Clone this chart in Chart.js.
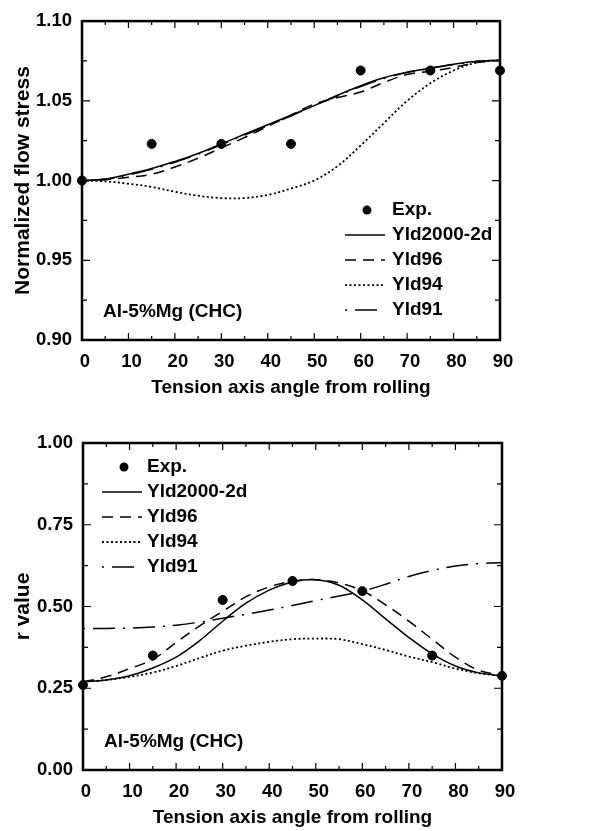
<!DOCTYPE html>
<html>
<head>
<meta charset="utf-8">
<script src="https://cdn.jsdelivr.net/npm/chart.js@4.4.0/dist/chart.umd.min.js"></script>
<style>
  html, body { margin: 0; padding: 0; background: #fff; }
  #wrap { position: relative; width: 613px; height: 831px; }
  canvas { position: absolute; left: 0; }
</style>
</head>
<body>
<div id="wrap">
  <canvas id="stressChart" width="613" height="405" style="top:0"></canvas>
  <canvas id="rChart" width="613" height="421" style="top:410px"></canvas>
</div>
<script>
// Al-5%Mg (CHC): flow stress and r value vs. angle from rolling direction

const angles = [0, 5, 10, 15, 20, 25, 30, 35, 40, 45, 50, 55, 60, 65, 70, 75, 80, 85, 90];
const expAngles = [0, 15, 30, 45, 60, 75, 90];
const seriesNames = ["Exp.", "Yld2000-2d", "Yld96", "Yld94", "Yld91"];

// normalized flow stress (top)
const stressExp = [1.000, 1.023, 1.023, 1.023, 1.069, 1.069, 1.069];
const stressYld2000 = [1.000, 1.001, 1.004, 1.0075, 1.012, 1.017, 1.023, 1.029, 1.035, 1.041, 1.047, 1.0535, 1.0595, 1.0645, 1.068, 1.0705, 1.073, 1.0748, 1.0755];
const stressYld96 = [1.000, 1.0005, 1.002, 1.004, 1.0085, 1.014, 1.0205, 1.027, 1.034, 1.041, 1.048, 1.052, 1.0555, 1.0615, 1.0665, 1.0685, 1.071, 1.074, 1.0755];
const stressYld94 = [1.000, 0.9995, 0.998, 0.996, 0.993, 0.9905, 0.989, 0.989, 0.991, 0.995, 1.000, 1.009, 1.022, 1.036, 1.050, 1.061, 1.069, 1.074, 1.0755];
const stressYld91 = [1.000, 1.0008, 1.0035, 1.007, 1.0115, 1.0165, 1.0225, 1.0285, 1.0345, 1.0405, 1.047, 1.053, 1.059, 1.064, 1.0678, 1.0703, 1.0728, 1.0747, 1.0755];

// r value (bottom)
const rExp = [0.26, 0.35, 0.52, 0.578, 0.547, 0.35, 0.288];
const rYld2000 = [0.27, 0.275, 0.288, 0.312, 0.345, 0.395, 0.455, 0.51, 0.55, 0.575, 0.582, 0.565, 0.52, 0.462, 0.405, 0.355, 0.318, 0.297, 0.288];
const rYld96 = [0.27, 0.285, 0.31, 0.338, 0.39, 0.44, 0.485, 0.53, 0.56, 0.577, 0.582, 0.572, 0.548, 0.505, 0.455, 0.40, 0.345, 0.305, 0.29];
const rYld94 = [0.27, 0.275, 0.285, 0.298, 0.318, 0.342, 0.365, 0.38, 0.392, 0.40, 0.402, 0.400, 0.385, 0.367, 0.347, 0.330, 0.310, 0.296, 0.288];
const rYld91 = [0.433, 0.433, 0.434, 0.437, 0.443, 0.452, 0.464, 0.476, 0.489, 0.503, 0.518, 0.532, 0.547, 0.568, 0.592, 0.610, 0.624, 0.631, 0.634];

const FONT = "'Liberation Sans', Arial, sans-serif";
Chart.defaults.font.family = FONT;
Chart.defaults.font.weight = "bold";
Chart.defaults.color = "#000";

function pts(xs, ys) {
    return xs.map((x, i) => ({ x: x, y: ys[i] }));
}

const lineStyles = [
    null,
    { dash: [], width: 1.5 },
    { dash: [11, 7], width: 1.5 },
    { dash: [2, 2.5], width: 1.8 },
    { dash: [2, 8, 22, 8], width: 1.5 }
];

function makeDatasets(exp, curves) {
    const sets = [{
        label: seriesNames[0],
        data: pts(expAngles, exp),
        showLine: false,
        pointRadius: 4.5,
        pointBackgroundColor: "#000",
        pointBorderColor: "#000",
        clip: false
    }];
    curves.forEach((c, i) => {
        const st = lineStyles[i + 1];
        sets.push({
            label: seriesNames[i + 1],
            data: pts(angles, c),
            showLine: true,
            borderColor: "#000",
            borderWidth: st.width,
            borderDash: st.dash,
            pointRadius: 0,
            tension: 0.35,
            fill: false
        });
    });
    return sets;
}

// inward ticks on all four sides + frame
const frameTicks = {
    id: "frameTicks",
    beforeDatasetsDraw(chart) {
        const { ctx, chartArea: a, scales: { x, y } } = chart;
        ctx.save();
        ctx.strokeStyle = "#000";
        ctx.lineWidth = 1.2;
        ctx.beginPath();
        x.ticks.forEach(t => {
            const px = x.getPixelForValue(t.value);
            const len = t.label === "" ? 4 : 7;
            ctx.moveTo(px, a.bottom); ctx.lineTo(px, a.bottom - len);
            ctx.moveTo(px, a.top); ctx.lineTo(px, a.top + len);
        });
        y.ticks.forEach(t => {
            const py = y.getPixelForValue(t.value);
            const len = t.label === "" ? 5 : 8;
            ctx.moveTo(a.left, py); ctx.lineTo(a.left + len, py);
            ctx.moveTo(a.right, py); ctx.lineTo(a.right - len, py);
        });
        ctx.stroke();
        ctx.lineWidth = 2.5;
        ctx.strokeRect(a.left, a.top, a.right - a.left, a.bottom - a.top);
        ctx.restore();
    }
};

// legend and material label drawn inside the plot
const innerLegend = {
    id: "innerLegend",
    afterDraw(chart, args, o) {
        const { ctx, chartArea: a } = chart;
        ctx.save();
        ctx.font = "bold 19px " + FONT;
        ctx.fillStyle = "#000";
        ctx.strokeStyle = "#000";
        ctx.textBaseline = "middle";
        chart.data.datasets.forEach((ds, i) => {
            const yy = a.top + o.top + i * o.step;
            if (ds.showLine === false) {
                ctx.beginPath();
                ctx.arc(a.left + o.dotX, yy, 4.5, 0, Math.PI * 2);
                ctx.fill();
            } else {
                ctx.setLineDash(ds.borderDash);
                ctx.lineWidth = ds.borderWidth;
                ctx.beginPath();
                ctx.moveTo(a.left + o.symL, yy);
                ctx.lineTo(a.left + o.symR, yy);
                ctx.stroke();
                ctx.setLineDash([]);
            }
            ctx.fillText(ds.label, a.left + o.textX, yy);
        });
        ctx.fillText("Al-5%Mg (CHC)", a.left + 21, a.bottom - 28);
        ctx.restore();
    }
};

function makeChart(id, datasets, yOpts, yTitle, pad, yWidth, xHeight, legendOpts) {
    return new Chart(document.getElementById(id), {
        type: "scatter",
        data: { datasets: datasets },
        options: {
            responsive: false,
            animation: false,
            layout: { padding: pad },
            plugins: {
                legend: { display: false },
                tooltip: { enabled: false },
                innerLegend: legendOpts
            },
            scales: {
                x: {
                    type: "linear",
                    min: 0, max: 90,
                    grid: { display: false, drawTicks: false },
                    border: { display: false },
                    ticks: {
                        stepSize: 5,
                        autoSkip: false,
                        maxRotation: 0,
                        padding: 11,
                        labelOffset: 3,
                        font: { size: 18.5, weight: "bold" },
                        callback: v => (v % 10 === 0 ? String(v) : "")
                    },
                    title: {
                        display: true,
                        text: "Tension axis angle from rolling",
                        font: { size: 19, weight: "bold" },
                        padding: { top: 0, bottom: xHeight === 65 ? 5.6 : 1.6 }
                    },
                    afterFit: s => { s.height = xHeight; }
                },
                y: {
                    type: "linear",
                    min: yOpts.min, max: yOpts.max,
                    grid: { display: false, drawTicks: false },
                    border: { display: false },
                    ticks: {
                        stepSize: yOpts.step,
                        autoSkip: false,
                        padding: 10,
                        font: { size: 18.5, weight: "bold" },
                        callback: v => (Math.round(v / yOpts.step) % 2 === 0 ? v.toFixed(2) : "")
                    },
                    title: {
                        display: true,
                        text: yTitle,
                        font: { size: 21, weight: "bold" },
                        padding: { top: 10.5, bottom: 0 }
                    },
                    afterFit: s => { s.width = yWidth; }
                }
            }
        },
        plugins: [frameTicks, innerLegend]
    });
}

makeChart("stressChart",
    makeDatasets(stressExp, [stressYld2000, stressYld96, stressYld94, stressYld91]),
    { min: 0.9, max: 1.1, step: 0.025 },
    "Normalized flow stress",
    { top: 14, right: 113, left: 0, bottom: 0 }, 82, 65,
    { top: 189, step: 25, dotX: 285, symL: 263, symR: 303, textX: 310 });

makeChart("rChart",
    makeDatasets(rExp, [rYld2000, rYld96, rYld94, rYld91]),
    { min: 0, max: 1, step: 0.125 },
    "r value",
    { top: 33, right: 111, left: 0, bottom: 0 }, 83, 61,
    { top: 24, step: 25, dotX: 41, symL: 19, symR: 59, textX: 64 });
</script>
</body>
</html>
